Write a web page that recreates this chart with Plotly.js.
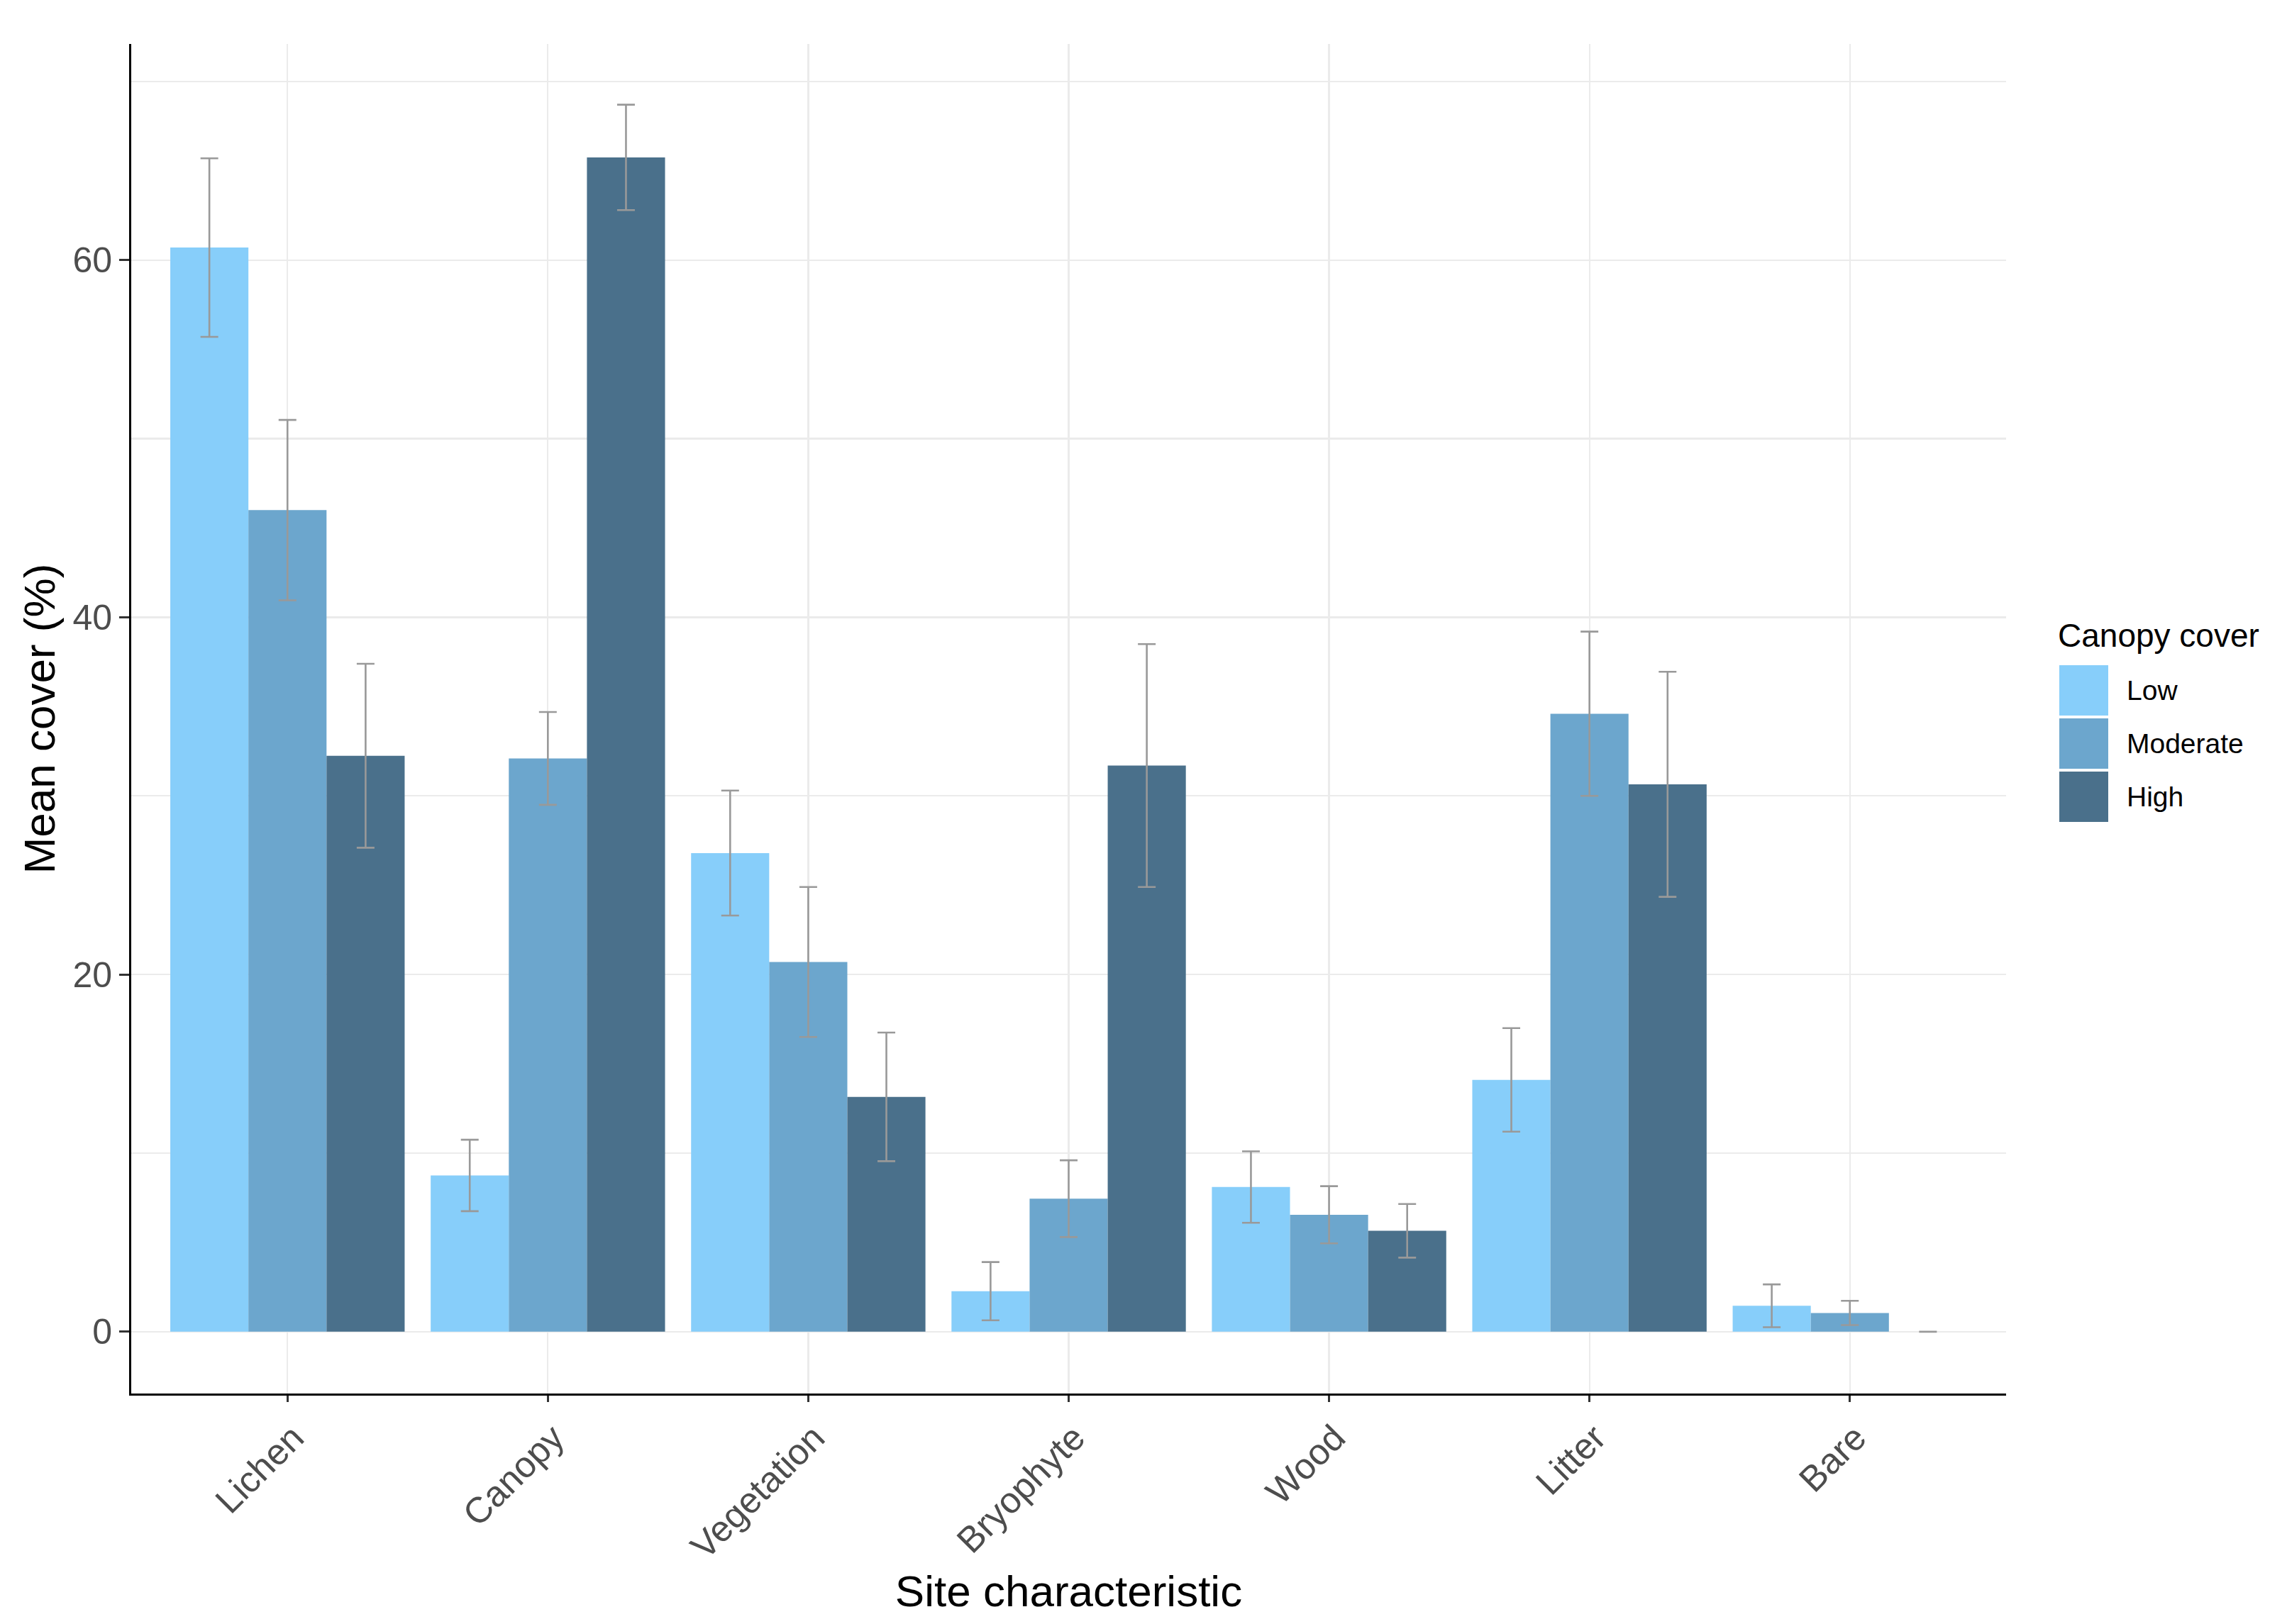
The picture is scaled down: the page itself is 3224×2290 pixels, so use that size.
<!DOCTYPE html>
<html><head><meta charset="utf-8">
<script src="https://cdn.plot.ly/plotly-3.0.1.min.js"></script>
<style>html,body{margin:0;padding:0;background:#fff;}#chart{width:3224px;height:2290px;}</style>
</head><body><div id="chart"></div>
<script>
// ---- data ----
const categories = ['Lichen', 'Canopy', 'Vegetation', 'Bryophyte', 'Wood', 'Litter', 'Bare'];
const groupNames = ['Low', 'Moderate', 'High'];
const lowMean  = [60.7, 8.75, 26.8, 2.27, 8.1, 14.1, 1.45];
const lowSE    = [5.0, 2.0, 3.5, 1.63, 2.0, 2.9, 1.2];
const modMean  = [46.0, 32.1, 20.7, 7.45, 6.55, 34.6, 1.05];
const modSE    = [5.05, 2.6, 4.2, 2.15, 1.6, 4.6, 0.68];
const highMean = [32.25, 65.75, 13.15, 31.7, 5.65, 30.65, 0];
const highSE   = [5.15, 2.95, 3.6, 6.8, 1.5, 6.3, 0];
const yTicks = [0, 20, 40, 60];
const yMinorTicks = [10, 30, 50, 70];
const colors = ['#87CEFA', '#6CA6CD', '#4A708B'];

// ---- layout geometry ----
const W = 3224, H = 2290;
const PL = 185, PR = 2828, PT = 62, PB = 1965;
const FONT = 'Liberation Sans, Arial, sans-serif';
const px2x = px => (px - PL) / (PR - PL);
const px2y = py => (PB - py) / (PB - PT);

const means = [lowMean, modMean, highMean];
const ses = [lowSE, modSE, highSE];

const traces = groupNames.map((g, i) => ({
  type: 'bar',
  name: g,
  x: categories,
  y: means[i],
  marker: {color: colors[i], line: {width: 0}},
  error_y: {type: 'data', array: ses[i], visible: true, color: '#999999', thickness: 2.6, width: 12.5},
  showlegend: false,
  hoverinfo: 'x+y+name'
}));

// manual ggplot-style legend
const shapes = [];
const annotations = [];
const keyX0 = 2903, keyX1 = 2972, keyTop0 = 938, keyH = 71, keyStep = 75;
groupNames.forEach((g, i) => {
  const top = keyTop0 + i * keyStep;
  shapes.push({type: 'rect', xref: 'paper', yref: 'paper',
    x0: px2x(keyX0), x1: px2x(keyX1), y0: px2y(top + keyH), y1: px2y(top),
    fillcolor: colors[i], line: {width: 0}});
  annotations.push({xref: 'paper', yref: 'paper', x: px2x(2996), y: px2y(top + keyH / 2),
    xanchor: 'left', yanchor: 'middle', showarrow: false, text: g,
    font: {family: FONT, size: 39, color: '#000'}});
});
annotations.push({xref: 'paper', yref: 'paper', x: px2x(2899), y: px2y(896),
  xanchor: 'left', yanchor: 'middle', showarrow: false, text: 'Canopy cover',
  font: {family: FONT, size: 46, color: '#000'}});

const layout = {
  width: W, height: H,
  paper_bgcolor: '#fff', plot_bgcolor: '#fff',
  margin: {l: PL, r: W - PR, t: PT, b: H - PB, pad: 0},
  font: {family: FONT},
  barmode: 'group', bargap: 0.1, bargroupgap: 0,
  showlegend: false,
  xaxis: {
    type: 'category', categoryorder: 'array', categoryarray: categories,
    range: [-0.6, 6.6], automargin: false,
    showgrid: true, gridcolor: '#EBEBEB', gridwidth: 2.2,
    showline: true, linecolor: '#000', linewidth: 3, mirror: false,
    ticks: 'outside', ticklen: 9, tickwidth: 3, tickcolor: '#333',
    tickangle: -45, tickfont: {family: FONT, size: 51, color: '#4D4D4D'},
    ticklabelshift: 8,
    zeroline: false,
    title: {text: 'Site characteristic', font: {family: FONT, size: 62, color: '#000'}, standoff: 14}
  },
  yaxis: {
    range: [-3.46, 72.1], automargin: false,
    tickmode: 'array', tickvals: yTicks, ticktext: yTicks.map(String),
    showgrid: true, gridcolor: '#EBEBEB', gridwidth: 2.2,
    minor: {tickmode: 'array', tickvals: yMinorTicks, showgrid: true, gridcolor: '#EBEBEB', gridwidth: 2.2, ticks: ''},
    showline: true, linecolor: '#000', linewidth: 3, mirror: false,
    ticks: 'outside', ticklen: 14, tickwidth: 3, tickcolor: '#333',
    tickfont: {family: FONT, size: 50, color: '#4D4D4D'},
    zeroline: false,
    title: {text: 'Mean cover (%)', font: {family: FONT, size: 62, color: '#000'}, standoff: 5}
  },
  shapes: shapes,
  annotations: annotations
};

Plotly.newPlot('chart', traces, layout, {displayModeBar: false, staticPlot: true});
</script>
</body></html>
